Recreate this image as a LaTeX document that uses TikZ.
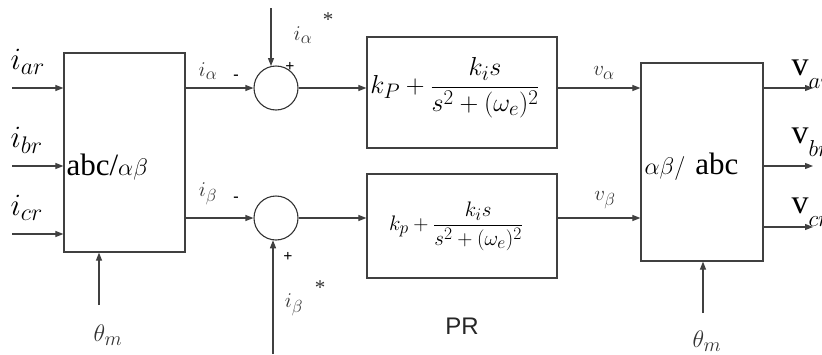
\RequirePackage{fix-cm}
\documentclass[tikz,border=0pt]{standalone}
\usepackage{amsmath}
\usepackage{fontspec}
\setmainfont{Liberation Serif}
\newfontfamily\tmsfont{Liberation Serif}
\newfontfamily\prfont{Liberation Sans}
\usetikzlibrary{arrows.meta,calc}
\DeclareMathSizes{31}{31}{24}{18}
\DeclareMathSizes{26}{26}{21}{17}
\DeclareMathSizes{24}{24}{20}{16}
\DeclareMathSizes{23}{23}{18}{14}
\DeclareMathSizes{21}{21}{17.5}{14}
\newcommand{\vout}[1]{{\tmsfont\fontsize{34}{34}\selectfont v}\raisebox{-13pt}{\fontsize{23}{23}\selectfont$#1$}}
\begin{document}
\begin{tikzpicture}[x=1pt,y=-1pt,
  line width=1.1pt,
  wire/.style={draw=black!75},
  arr/.style={wire,-{Triangle[length=8pt,width=6pt]}},
  blk/.style={draw=black!75,line width=1.2pt,rectangle,inner sep=0pt},
  sumc/.style={draw=black!80,line width=1.1pt,circle,minimum size=44pt,inner sep=0pt},
  big/.style={font=\fontsize{31}{31}\selectfont,inner sep=0pt},
  sml/.style={font=\fontsize{21}{21}\selectfont,inner sep=0pt,text=black!80},
  sgn/.style={font=\fontsize{16}{16}\selectfont\bfseries,inner sep=0pt}]
\useasboundingbox (0,0) rectangle (822,354);
% blocks
\node[blk,minimum width=121pt,minimum height=199pt] (L) at (124.5,152.5) {};
\node[blk,minimum width=122pt,minimum height=198pt] (R) at (702,162) {};
\node[blk,minimum width=190pt,minimum height=111pt] (P1) at (462,92.5) {};
\node[blk,minimum width=190pt,minimum height=104pt] (P2) at (462,226) {};
\node[sumc] (S1) at (276,88) {};
\node[sumc] (S2) at (276,218) {};
% block texts
\node[inner sep=0pt,anchor=west] (Lt) at (66,167) {\tmsfont\fontsize{31}{31}\selectfont abc/\fontsize{24}{24}\selectfont$\alpha\beta$};
\node[inner sep=0pt,anchor=west] (Rt) at (644,167) {\tmsfont\fontsize{24}{24}\selectfont$\alpha\beta/$\hspace{10pt}\fontsize{31}{31}\selectfont abc};
\node[inner sep=0pt,font=\fontsize{26}{26}\selectfont] (F1) at (455,88) {$k_P+\dfrac{k_i s}{s^2+(\omega_e)^2}$};
\node[inner sep=0pt,font=\fontsize{21}{21}\selectfont] (F2) at (456,226) {$k_p+\dfrac{k_i s}{s^2+(\omega_e)^2}$};
% input coordinates
\coordinate (ia) at (12,88);
\coordinate (ib) at (12,166);
\coordinate (ic) at (12,234);
\coordinate (ta) at (271,8);
\coordinate (tb) at (273,354);
\coordinate (th1) at (99,305);
\coordinate (th2) at (703,313);
\coordinate (oa) at (813,88);
\coordinate (ob) at (813,166);
\coordinate (oc) at (813,227);
% connectors
\draw[arr] (ia) -- (ia -| L.west);
\draw[arr] (ib) -- (ib -| L.west);
\draw[arr] (ic) -- (ic -| L.west);
\draw[arr] (L.east |- S1) -- (S1.west);
\draw[arr] (L.east |- S2) -- (S2.west);
\draw[arr] (ta) -- ($(ta |- S1.north)+(0,0.6)$);
\draw[arr] (tb) -- ($(tb |- S2.south)+(0,-0.3)$);
\draw[arr] (S1.east) -- (S1.east -| P1.west);
\draw[arr] (S2.east) -- (S2.east -| P2.west);
\draw[arr] (P1.east |- S1) -- (R.west |- S1);
\draw[arr] (P2.east |- S2) -- (R.west |- S2);
\draw[arr] (th1) -- (th1 |- L.south);
\draw[arr] (th2) -- (th2 |- R.south);
\draw[arr] (oa -| R.east) -- (oa);
\draw[arr] (ob -| R.east) -- (ob);
\draw[arr] (oc -| R.east) -- (oc);
% labels
\node[big,anchor=west] (lar) at (10,62) {$i_{ar}$};
\node[big,anchor=west] (lbr) at (10,140) {$i_{br}$};
\node[big,anchor=west] (lcr) at (10,208) {$i_{cr}$};
\node[sml] (la) at (208,71) {$i_\alpha$};
\node[sml] (lb) at (208,194) {$i_\beta$};
\node[sgn] (m1) at (236,77) {-};
\node[sgn] (m2) at (236,199) {-};
\node[sgn] (p1) at (290,67) {+};
\node[sgn] (p2) at (288,257) {+};
\node[sml] (las) at (303,35) {$i_\alpha$};
\node[sml] (ast1) at (328,20) {*};
\node[sml] (lbs) at (294,305) {$i_\beta$};
\node[sml] (ast2) at (320,288) {*};
\node[sml] (va) at (604,73) {$v_\alpha$};
\node[sml] (vb) at (605,200) {$v_\beta$};
\node[inner sep=0pt,anchor=base west] (var) at (791,75) {\vout{ar}};
\node[inner sep=0pt,anchor=base west] (vbr) at (791,143) {\vout{br}};
\node[inner sep=0pt,anchor=base west] (vcr) at (791,213) {\vout{cr}};
\node[sml,font=\fontsize{24}{24}\selectfont] (t1) at (108,335) {$\theta_m$};
\node[sml,font=\fontsize{24}{24}\selectfont] (t2) at (707,341) {$\theta_m$};
\node[inner sep=0pt,font=\prfont\fontsize{24}{24}\selectfont,text=black!85] (pr) at (462,326) {PR};
\end{tikzpicture}
\end{document}
